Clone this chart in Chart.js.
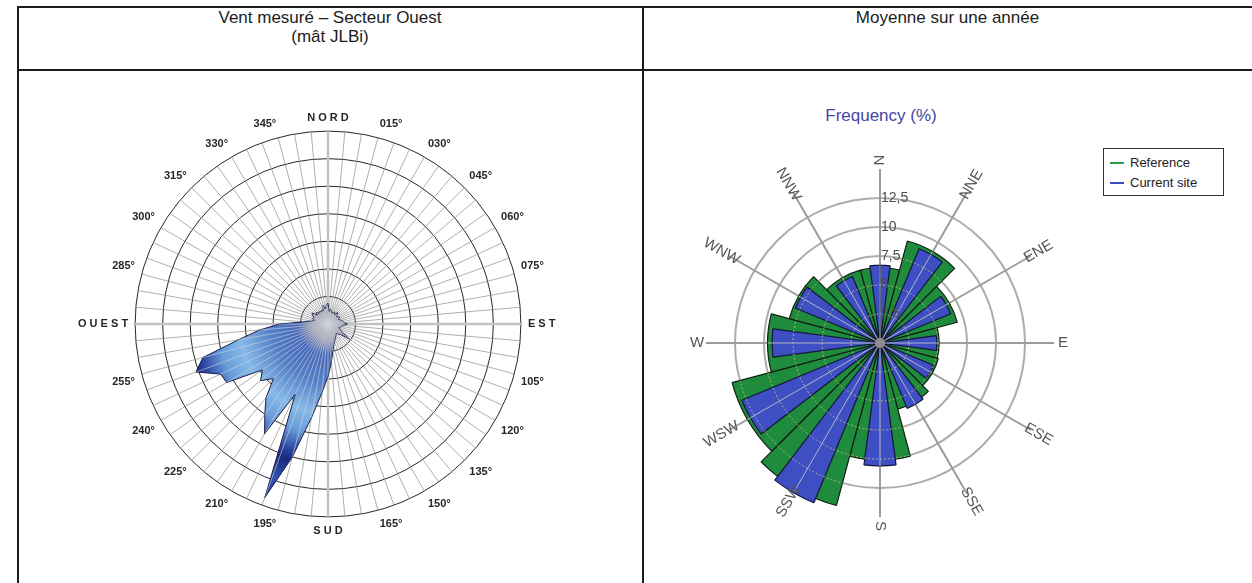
<!DOCTYPE html>
<html lang="fr">
<head>
<meta charset="utf-8">
<title>Vent mesuré – Secteur Ouest / Moyenne sur une année</title>
<script src="https://cdn.jsdelivr.net/npm/chart.js@4.4.1/dist/chart.umd.min.js"></script>
<style>
  html, body { margin: 0; padding: 0; background: #fff; }
  body {
    width: 1252px; height: 583px; position: relative; overflow: hidden;
    font-family: "Liberation Sans", Arial, sans-serif; color: #1c1c1c;
  }
  .rule { position: absolute; background: #1c1c1c; }
  .head { position: absolute; top: 8px; text-align: center; font-size: 17px; line-height: 19px; }
  #radarBox { position: absolute; left: 67px; top: 75px; width: 500px; height: 500px; }
  #roseBox  { position: absolute; left: 670px; top: 133px; width: 420px; height: 420px; }
  .roseTitle {
    position: absolute; left: 781px; width: 200px; top: 106px; text-align: center;
    font-size: 17px; color: #4646a6;
  }
  .legend {
    position: absolute; left: 1103px; top: 148px; width: 121px; height: 48px;
    border: 1.5px solid #333; font-size: 13px; color: #222; box-sizing: border-box;
    padding: 5px 0 0 6px;
  }
  .legend div { height: 20px; line-height: 18px; white-space: nowrap; }
  .legend span.swatch { display: inline-block; width: 14px; height: 2px; vertical-align: middle; margin-right: 6px; position: relative; top: -1px; }
</style>
</head>
<body>
  <!-- table frame -->
  <div class="rule" style="left:17px; top:6px; width:1235px; height:1.5px;"></div>
  <div class="rule" style="left:17px; top:69px; width:1235px; height:1.5px;"></div>
  <div class="rule" style="left:17px; top:6px; width:1.5px; height:577px;"></div>
  <div class="rule" style="left:642px; top:6px; width:1.5px; height:577px;"></div>

  <div class="head" style="left:18px; width:624px;">Vent mesuré – Secteur Ouest<br>(mât JLBi)</div>
  <div class="head" style="left:643px; width:609px;">Moyenne sur une année</div>

  <div id="radarBox"><canvas id="radar"></canvas></div>

  <div class="roseTitle">Frequency (%)</div>
  <div id="roseBox"><canvas id="rose"></canvas></div>
  <div class="legend">
    <div><span class="swatch" style="background:#2f9a48"></span>Reference</div>
    <div><span class="swatch" style="background:#3a4cc4"></span>Current site</div>
  </div>

<script>
// ---------- Left: measured wind, western sector (frequency % per 5° direction) ----------
const DIRECTIONS = Array.from({ length: 72 }, (_, i) => i * 5);   // 000° … 355°, clockwise from north
const WEST_FREQ = [
  0.75, 0.45, 0.55, 0.50, 0.40, 0.45, 0.50, 0.40, 0.55, 0.45, 0.40, 0.45,   // 000–055
  0.50, 0.40, 0.45, 0.50, 0.55, 0.60, 0.70, 0.55, 0.50, 0.45, 0.40, 0.50,   // 060–115
  0.60, 0.95, 0.60, 0.50, 0.45, 0.50, 0.55, 0.60, 0.70, 0.80, 1.00, 1.40,   // 120–175
  1.90, 2.50, 3.45, 5.00, 6.70, 2.80, 4.60, 4.00, 3.50, 2.80, 3.20, 2.90,   // 180–235
  4.25, 4.30, 5.10, 4.70, 3.30, 2.50, 1.75, 0.90, 0.60, 0.50, 0.60, 0.55,   // 240–295
  0.65, 0.70, 0.50, 0.60, 0.50, 0.55, 0.50, 0.55, 0.50, 0.70, 0.55, 0.70    // 300–355
];
const RADAR_MAX = 7;
const CARDINAL_NAMES = { 0: 'NORD', 90: 'EST', 180: 'SUD', 270: 'OUEST' };

function directionLabel(deg) {
  if (CARDINAL_NAMES[deg]) return CARDINAL_NAMES[deg].split('').join(' ');
  if (deg % 15 !== 0) return '';
  return String(deg).padStart(3, '0') + '°';
}

// ---------- Right: yearly mean frequency rose, 12 sectors ----------
const SECTORS   = ['N', 'NNE', 'ENE', 'E', 'ESE', 'SSE', 'S', 'SSW', 'WSW', 'W', 'WNW', 'NNW'];
const REFERENCE = [6.5, 9.1, 6.9, 5.1, 5.2, 5.9, 10.1, 14.5, 13.2, 9.7, 8.1, 6.5];
const CURRENT   = [6.7, 8.8, 6.6, 4.9, 5.0, 6.1, 10.6, 14.9, 12.9, 9.3, 7.9, 6.2];
const RING_TICKS = [2.5, 5, 7.5, 10, 12.5];
const ROSE_MAX = 15;

const SECTOR_WIDTH = 360 / SECTORS.length;
const REFERENCE_WIDTH = 30;   // degrees covered by a reference bar
const CURRENT_WIDTH = 15;     // degrees covered by a current-site bar

// Arcs are laid clockwise from north; the north bar straddles 0° so it is split in two halves.
function sectorArcs(values, width) {
  const half = width / 2, gap = SECTOR_WIDTH - width;
  const data = [], spans = [];
  values.forEach((v, i) => {
    data.push(v); spans.push(i === 0 ? half : width);
    if (gap > 0) { data.push(0); spans.push(gap); }
  });
  data.push(values[0]); spans.push(half);
  return { data, spans };
}

const FONT = '"Liberation Sans", Arial, sans-serif';

// ---------- radar ----------
function westFill(context) {
  const chart = context.chart;
  const s = chart.scales.r;
  if (!chart.chartArea || !s || !s.drawingArea) return '#5a7cc8';
  const R = s.drawingArea;
  const g = chart.ctx.createRadialGradient(s.xCenter, s.yCenter, 0, s.xCenter, s.yCenter, R);
  g.addColorStop(0.00, '#9d9d9d');
  g.addColorStop(0.08, '#9a9cab');
  g.addColorStop(0.16, '#4467bd');
  g.addColorStop(0.30, '#5580c8');
  g.addColorStop(0.46, '#86bae8');
  g.addColorStop(0.57, '#6a9cd8');
  g.addColorStop(0.68, '#2a44a2');
  g.addColorStop(0.73, '#1b297e');
  g.addColorStop(0.84, '#3252b2');
  g.addColorStop(1.00, '#2840a0');
  return g;
}

// light spokes seen through the filled area
const spokesOverFill = {
  id: 'spokesOverFill',
  afterDatasetsDraw(chart) {
    const s = chart.scales.r, ctx = chart.ctx;
    const pts = chart.getDatasetMeta(0).data;
    ctx.save();
    ctx.beginPath();
    pts.forEach((p, i) => (i ? ctx.lineTo(p.x, p.y) : ctx.moveTo(p.x, p.y)));
    ctx.closePath();
    ctx.clip();
    ctx.strokeStyle = 'rgba(206,210,220,0.8)';
    ctx.lineWidth = 0.8;
    for (let i = 0; i < DIRECTIONS.length; i++) {
      const p = s.getPointPositionForValue(i, s.max);
      ctx.beginPath();
      ctx.moveTo(s.xCenter, s.yCenter);
      ctx.lineTo(p.x, p.y);
      ctx.stroke();
    }
    ctx.restore();
  }
};

new Chart(document.getElementById('radar'), {
  type: 'radar',
  data: {
    labels: DIRECTIONS,
    datasets: [{
      data: WEST_FREQ,
      fill: true,
      backgroundColor: westFill,
      borderColor: '#1a1c48',
      borderWidth: 1,
      borderJoinStyle: 'miter',
      pointRadius: 0,
      tension: 0
    }]
  },
  options: {
    responsive: true,
    maintainAspectRatio: false,
    animation: false,
    events: [],
    plugins: { legend: { display: false }, tooltip: { enabled: false } },
    scales: {
      r: {
        min: 0, max: RADAR_MAX,
        ticks: { display: false, stepSize: 1 },
        grid: { circular: true, color: '#262626', lineWidth: 1 },
        angleLines: {
          color: (c) => (c.index % 18 === 0 ? '#c2c2c2' : '#8c8c8c'),
          lineWidth: (c) => (c.index % 18 === 0 ? 2.5 : 0.7)
        },
        pointLabels: {
          display: true,
          padding: 7,
          color: '#262626',
          font: { family: FONT, size: 11, weight: 'bold' },
          callback: (deg) => directionLabel(deg)
        }
      }
    }
  },
  plugins: [spokesOverFill]
});

// ---------- rose ----------
const refArcs = sectorArcs(REFERENCE, REFERENCE_WIDTH);
const curArcs = sectorArcs(CURRENT, CURRENT_WIDTH);

const roseDecor = {
  id: 'roseDecor',
  afterDatasetsDraw(chart) {
    const s = chart.scales.r, ctx = chart.ctx;
    ctx.save();
    // grid seen through the bars
    ctx.beginPath();
    chart.data.datasets.forEach((d, di) => {
      chart.getDatasetMeta(di).data.forEach((a) => {
        if (a.outerRadius > 0) {
          ctx.moveTo(a.x, a.y);
          ctx.arc(a.x, a.y, a.outerRadius, a.startAngle, a.endAngle);
          ctx.closePath();
        }
      });
    });
    ctx.clip();
    ctx.strokeStyle = 'rgba(214,206,130,0.75)';
    ctx.lineWidth = 1;
    ctx.setLineDash([2, 2]);
    RING_TICKS.forEach((v) => {
      ctx.beginPath();
      ctx.arc(s.xCenter, s.yCenter, s.getDistanceFromCenterForValue(v), 0, Math.PI * 2);
      ctx.stroke();
    });
    ctx.setLineDash([]);
    ctx.strokeStyle = 'rgba(200,200,200,0.85)';
    ctx.lineWidth = 1;
    for (let i = 0; i < SECTORS.length; i++) {
      const p = s.getPointPositionForValue(i, s.max);
      ctx.beginPath();
      ctx.moveTo(s.xCenter, s.yCenter);
      ctx.lineTo(p.x, p.y);
      ctx.stroke();
    }
    ctx.restore();

    // hub
    ctx.save();
    ctx.fillStyle = '#8d8d8d';
    ctx.beginPath();
    ctx.arc(s.xCenter, s.yCenter, 5, 0, Math.PI * 2);
    ctx.fill();

    // ring values along the north spoke
    ctx.font = '14px ' + FONT;
    ctx.fillStyle = '#4e4e4e';
    ctx.textAlign = 'left';
    ctx.textBaseline = 'middle';
    RING_TICKS.forEach((v) => {
      const y = s.yCenter - s.getDistanceFromCenterForValue(v);
      ctx.fillText(String(v).replace('.', ','), s.xCenter + 1, y);
    });

    // sector names, turned along their spokes
    ctx.fillStyle = '#555';
    ctx.font = '15px ' + FONT;
    ctx.textAlign = 'center';
    SECTORS.forEach((name, i) => {
      const a = s.getIndexAngle(i);
      const p = s.getPointPosition(i, s.drawingArea + 9);
      const deg = a * 180 / Math.PI;
      const rot = deg <= 180 ? deg - 90 : deg - 270;
      ctx.save();
      ctx.translate(p.x, p.y);
      ctx.rotate(rot * Math.PI / 180);
      ctx.fillText(name, 0, 0);
      ctx.restore();
    });
    ctx.restore();
  }
};

new Chart(document.getElementById('rose'), {
  type: 'polarArea',
  data: {
    labels: SECTORS,
    datasets: [
      {
        label: 'Reference',
        order: 2,
        data: refArcs.data,
        angle: (c) => refArcs.spans[c.dataIndex],
        backgroundColor: '#1f8b3c',
        borderColor: '#0f1f12',
        borderWidth: (c) => (c.raw > 0 ? 1.2 : 0)
      },
      {
        label: 'Current site',
        order: 1,
        data: curArcs.data,
        angle: (c) => curArcs.spans[c.dataIndex],
        backgroundColor: '#3e4fc4',
        borderColor: '#121438',
        borderWidth: (c) => (c.raw > 0 ? 1.2 : 0)
      }
    ]
  },
  options: {
    responsive: true,
    maintainAspectRatio: false,
    animation: false,
    events: [],
    layout: { padding: 36 },
    plugins: { legend: { display: false }, tooltip: { enabled: false } },
    scales: {
      r: {
        min: 0, max: ROSE_MAX, startAngle: 0,
        ticks: { display: false, stepSize: 2.5 },
        grid: {
          circular: true,
          color: (c) => (c.tick && c.tick.value >= ROSE_MAX ? 'rgba(0,0,0,0)' : '#acacac'),
          lineWidth: 2
        },
        angleLines: { display: true, color: '#9c9c9c', lineWidth: 2 },
        pointLabels: { display: false }
      }
    }
  },
  plugins: [roseDecor]
});
</script>
</body>
</html>
